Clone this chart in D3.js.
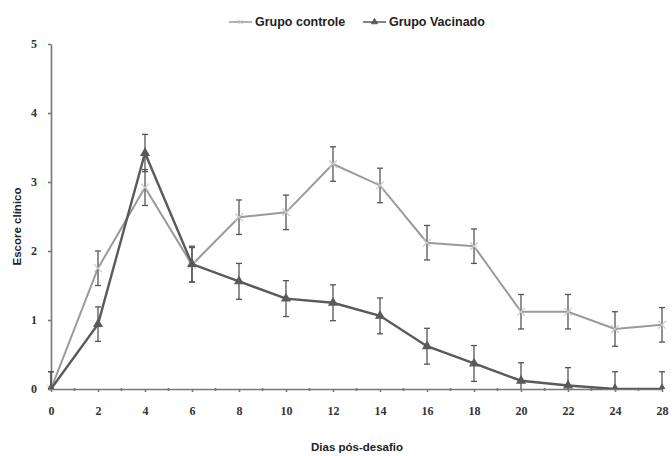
<!DOCTYPE html>
<html>
<head>
<meta charset="utf-8">
<script src="https://cdn.jsdelivr.net/npm/d3@7"></script>
<style>
  body { margin: 0; background: #fff; }
  .title { font-family: "Liberation Sans Narrow", "Arial Narrow", "Liberation Sans", sans-serif; font-weight: bold; font-size: 11.5px; fill: #222; }
</style>
</head>
<body>
<div class="canvas"></div>
<script>
// data
const dias = ["0", "2", "4", "6", "8", "10", "12", "14", "16", "18", "20", "22", "24", "28"];
const controle = [0, 1.75, 2.92, 1.8, 2.49, 2.56, 3.26, 2.95, 2.12, 2.07, 1.12, 1.12, 0.87, 0.93];
const controleErr = [0.25, 0.25, 0.26, 0.25, 0.25, 0.25, 0.25, 0.25, 0.25, 0.25, 0.25, 0.25, 0.25, 0.25];
const vacinado = [0, 0.94, 3.42, 1.81, 1.56, 1.31, 1.25, 1.06, 0.62, 0.37, 0.12, 0.05, 0, 0];
const vacinadoErr = [0.25, 0.25, 0.27, 0.26, 0.26, 0.26, 0.26, 0.26, 0.26, 0.26, 0.26, 0.26, 0.25, 0.25];
const yTicks = [0, 1, 2, 3, 4, 5];

const dims = { width: 672, height: 456 };
const plot = { left: 51, right: 662, top: 44, bottom: 389 };

const svg = d3
  .select(".canvas")
  .append("svg")
  .attr("width", dims.width)
  .attr("height", dims.height);

const x = d3.scalePoint().domain(dias).range([plot.left, plot.right]);
const y = d3.scaleLinear().domain([0, 5]).range([plot.bottom, plot.top]);

// clip so error bars stop at the axes
svg.append("clipPath").attr("id", "clip")
  .append("rect")
  .attr("x", plot.left - 10).attr("y", 0)
  .attr("width", dims.width).attr("height", plot.bottom);

//y axis
const yAxis = svg.append("g")
  .attr("transform", `translate(${plot.left},0)`)
  .call(d3.axisLeft(y).tickValues(yTicks).tickFormat(d3.format("d")).tickSize(3).tickSizeOuter(0).tickPadding(11));

//x axis
const xAxis = svg.append("g")
  .attr("transform", `translate(0,${plot.bottom})`)
  .call(d3.axisBottom(x).tickSize(3).tickSizeOuter(0).tickPadding(14));

// minor ticks between categories
const mids = dias.slice(1).map((d, i) => (x(dias[i]) + x(d)) / 2);
xAxis.selectAll(".minor").data(mids).enter()
  .append("line")
  .attr("class", "minor")
  .attr("x1", (d) => d).attr("x2", (d) => d)
  .attr("y1", -1).attr("y2", 2);

svg.selectAll(".domain, .tick line, .minor").attr("stroke", "#777").attr("stroke-width", 1.6);
svg.selectAll(".tick text")
  .attr("font-family", "'Liberation Serif', 'Times New Roman', serif")
  .attr("font-weight", "bold")
  .attr("font-size", 12)
  .attr("fill", "#333");

// axis titles
svg.append("text").attr("class", "title")
  .attr("x", 357).attr("y", 451)
  .attr("text-anchor", "middle")
  .text("Dias pós-desafio");

svg.append("text").attr("class", "title")
  .attr("transform", `translate(21,${(plot.top + plot.bottom) / 2 + 10}) rotate(-90)`)
  .attr("text-anchor", "middle")
  .text("Escore clínico");

const series = [
  { name: "Grupo controle", values: controle, err: controleErr, colour: "#9a9a9a", width: 2, marker: "cross" },
  { name: "Grupo Vacinado", values: vacinado, err: vacinadoErr, colour: "#5a5a5a", width: 2.4, marker: "triangle" }
];

const line = d3.line().x((d) => x(d.dia)).y((d) => y(d.v));

series.forEach((s) => {
  const pts = dias.map((dia, i) => ({ dia, v: s.values[i], e: s.err[i] }));
  const g = svg.append("g").attr("clip-path", "url(#clip)");

  g.append("path")
    .datum(pts)
    .attr("fill", "none")
    .attr("stroke", s.colour)
    .attr("stroke-width", s.width)
    .attr("d", line);

  //error bars
  const bars = g.selectAll(".err").data(pts).enter().append("g").attr("stroke", "#555").attr("stroke-width", 1.3);
  bars.append("line")
    .attr("x1", (d) => x(d.dia)).attr("x2", (d) => x(d.dia))
    .attr("y1", (d) => y(d.v + d.e)).attr("y2", (d) => y(d.v - d.e));
  bars.append("line")
    .attr("x1", (d) => x(d.dia) - 3).attr("x2", (d) => x(d.dia) + 3)
    .attr("y1", (d) => y(d.v + d.e)).attr("y2", (d) => y(d.v + d.e));
  bars.append("line")
    .attr("x1", (d) => x(d.dia) - 3).attr("x2", (d) => x(d.dia) + 3)
    .attr("y1", (d) => y(d.v - d.e)).attr("y2", (d) => y(d.v - d.e));

  //markers
  const sym = s.marker === "cross" ? d3.symbolX : d3.symbolTriangle;
  g.selectAll(".mk").data(pts).enter().append("path")
    .attr("transform", (d) => `translate(${x(d.dia)},${y(d.v)})`)
    .attr("d", d3.symbol().type(sym).size(s.marker === "cross" ? 40 : 28))
    .attr("fill", s.marker === "cross" ? "none" : s.colour)
    .attr("stroke", s.marker === "cross" ? "#c8c8c8" : s.colour)
    .attr("stroke-width", 1.2);
});

//legend
const legend = svg.append("g");
const legendX = [229, 363];
series.forEach((s, i) => {
  const lg = legend.append("g").attr("transform", `translate(${legendX[i]},22)`);
  lg.append("line").attr("x1", 0).attr("x2", 23).attr("stroke", s.colour).attr("stroke-width", 1.5);
  lg.append("path")
    .attr("transform", "translate(11.5,0)")
    .attr("d", d3.symbol().type(s.marker === "cross" ? d3.symbolX : d3.symbolTriangle).size(16))
    .attr("fill", s.marker === "cross" ? "none" : s.colour)
    .attr("stroke", s.marker === "cross" ? "#bbb" : s.colour);
  lg.append("text").attr("class", "title")
    .attr("x", 26).attr("y", 4)
    .style("font-size", "12.5px")
    .text(s.name);
});
</script>
</body>
</html>
